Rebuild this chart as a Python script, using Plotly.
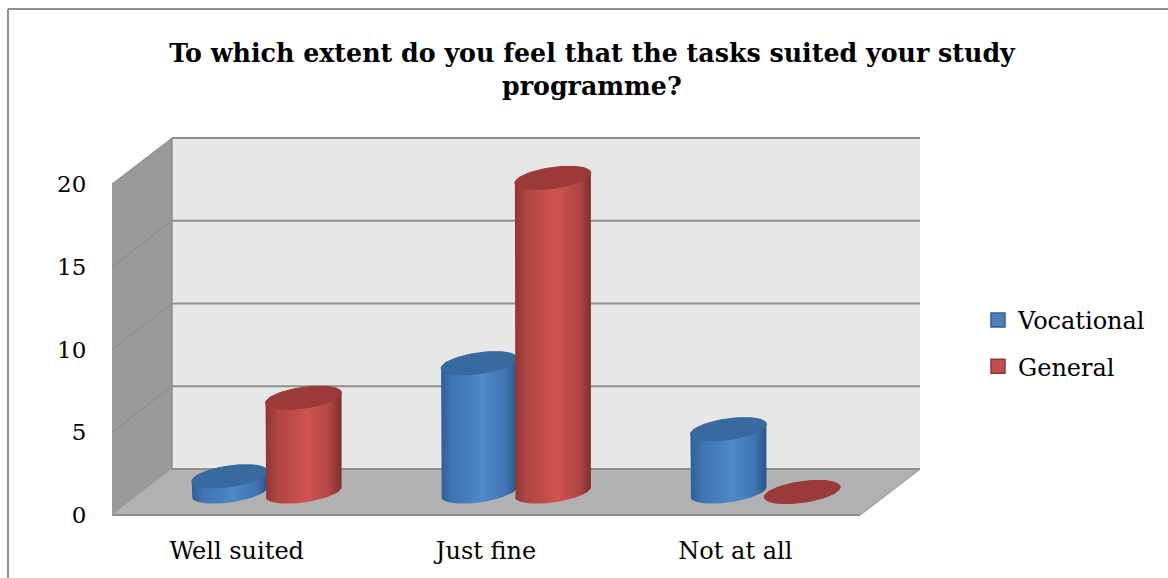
import numpy as np
import plotly.graph_objects as go

categories = ["Well suited", "Just fine", "Not at all"]
vocational = [1, 8.2, 4]
general = [6, 20, 0]
y_ticks = [0, 5, 10, 15, 20]
title_lines = ["To which extent do you feel that the tasks suited your study", "programme?"]

W, H = 1168, 578
L, R, T, B = 112, 925, 130, 520          # plot area in page pixels
PX_CAT = 249.33                          # pixels per category on the front edge
PX_VAL = 16.55                           # pixels per value unit on the front edge
DX, DY = 60 / PX_CAT, 46 / PX_VAL        # depth offset of the back wall
BAR_SCALE = 0.949                        # perspective shrink at mid depth
BAR_OFF = 0.148
RX, RY, SH = 38 / PX_CAT, 10.5 / PX_VAL, 5 / PX_VAL

FONT = "DejaVu Serif"
px = lambda x: (x - L) / (R - L)
py = lambda y: (B - y) / (B - T)

fig = go.Figure()


def poly(xs, ys, fill=None, line=None, width=0, grad=None, mode="lines"):
    kw = dict(x=list(xs), y=list(ys), mode=mode, showlegend=False, hoverinfo="skip", cliponaxis=False,
              line=dict(color=line or "rgba(0,0,0,0)", width=width))
    if grad:
        kw.update(fill="toself", fillgradient=dict(type="horizontal", colorscale=grad))
    elif fill:
        kw.update(fill="toself", fillcolor=fill)
    fig.add_trace(go.Scatter(**kw))


top = y_ticks[-1]
n = len(categories)
# left wall, back wall, floor
poly([0, 0, DX, DX, 0], [0, top, top + DY, DY, 0], fill="#999999")
poly([DX, DX, n + DX, n + DX, DX], [DY, top + DY, top + DY, DY, DY], fill="#e7e7e7")
poly([0, n, n + DX, DX, 0], [0, 0, DY, DY, 0], fill="#b1b1b1")
poly([DX, DX], [DY, top + DY], line="#8f8f8f", width=1.5)
poly([0, n], [0, 0], line="#8c8c8c", width=2)
poly([n, n + DX], [0, DY], line="#a5a5a5", width=1.5)
poly([0, DX], [0, DY], line="#a8a8a8", width=1)
for v in y_ticks[1:]:
    poly([0, DX], [v, v + DY], line="#8a8a8a", width=1)
for v in y_ticks:
    poly([DX, n + DX], [v + DY, v + DY], line="#8e8e8e", width=2)


def cylinder(i, value, sign, body_scale, top_color):
    cx = i + 0.5 + DX / 2 + sign * BAR_OFF
    base = DY / 2
    ytop = base + value * BAR_SCALE
    t = np.linspace(0, 2 * np.pi, 73)
    ex = RX * np.cos(t)
    ey = SH * np.cos(t) + RY * np.sin(t)
    if value > 0:
        lower = np.linspace(np.pi, 2 * np.pi, 37)
        bx = cx + RX * np.cos(lower)
        by = base + SH * np.cos(lower) + RY * np.sin(lower)
        xs = np.concatenate([[cx - RX], bx, [cx + RX, cx - RX]])
        ys = np.concatenate([[ytop - SH], by, [ytop + SH, ytop - SH]])
        poly(xs, ys, grad=body_scale)
    poly(cx + ex, ytop + ey, fill=top_color, line=top_color, width=1)


blue_scale = [[0, "#2f5f96"], [0.15, "#3f75b2"], [0.55, "#5088c8"], [0.85, "#3f75b2"], [1, "#2a5587"]]
red_scale = [[0, "#8f3634"], [0.15, "#af4543"], [0.55, "#cf5451"], [0.85, "#af4543"], [1, "#7f2e2d"]]
for i in range(n):
    cylinder(i, vocational[i], -1, blue_scale, "#38699f")
    cylinder(i, general[i], 1, red_scale, "#9b3a38")

# legend entries
for name, col, edge in [("Vocational", "#4f81bd", "#385d8a"), ("General", "#c0504d", "#8c3836")]:
    fig.add_trace(go.Scatter(x=[None], y=[None], mode="markers", name=name, legendgroup=name,
                             marker=dict(symbol="square", size=14, color=col, line=dict(color=edge, width=1.5))))

frame_x = [px(8), px(8), px(W)]
frame_y = [py(H), py(9), py(9)]
shapes = [dict(type="line", xref="paper", yref="paper", x0=frame_x[a], y0=frame_y[a], x1=frame_x[a + 1],
               y1=frame_y[a + 1], line=dict(color="#8f8f8f", width=2)) for a in range(2)]

fig.update_layout(
    width=W, height=H, autosize=False,
    margin=dict(l=L, r=W - R, t=T, b=H - B, pad=0, autoexpand=False),
    paper_bgcolor="white", plot_bgcolor="white",
    font=dict(family=FONT, size=24, color="black"),
    title=dict(text="<b>%s</b>" % title_lines[0], xref="container", yref="container", x=592 / W, xanchor="center",
               y=1 - 53 / H, yanchor="middle", font=dict(family=FONT, size=25.3, color="black")),
    annotations=[dict(text="<b>%s</b>" % title_lines[1], xref="paper", yref="paper", x=px(592), y=py(86),
                      xanchor="center", yanchor="middle", showarrow=False,
                      font=dict(family=FONT, size=25.3, color="black"))],
    shapes=shapes,
    xaxis=dict(range=[0, (R - L) / PX_CAT], tickmode="array", tickvals=[i + 0.5 for i in range(n)],
               ticktext=categories, showgrid=False, zeroline=False, showline=False, ticks="outside",
               ticklen=9, tickcolor="rgba(0,0,0,0)", fixedrange=True, tickfont=dict(family=FONT, size=24)),
    yaxis=dict(range=[(515 - B) / PX_VAL, (515 - T) / PX_VAL], tickmode="array", tickvals=y_ticks,
               showgrid=False, zeroline=False, showline=False, ticks="outside", ticklen=20,
               tickcolor="rgba(0,0,0,0)", fixedrange=True, tickfont=dict(family=FONT, size=23)),
    legend=dict(x=px(978), y=py(298), xanchor="left", yanchor="top", tracegroupgap=12,
                traceorder="grouped", bgcolor="rgba(0,0,0,0)", font=dict(family=FONT, size=24)),
)

fig.write_html("out.html", post_script="document.body.style.margin='0';", config={"displayModeBar": False})
